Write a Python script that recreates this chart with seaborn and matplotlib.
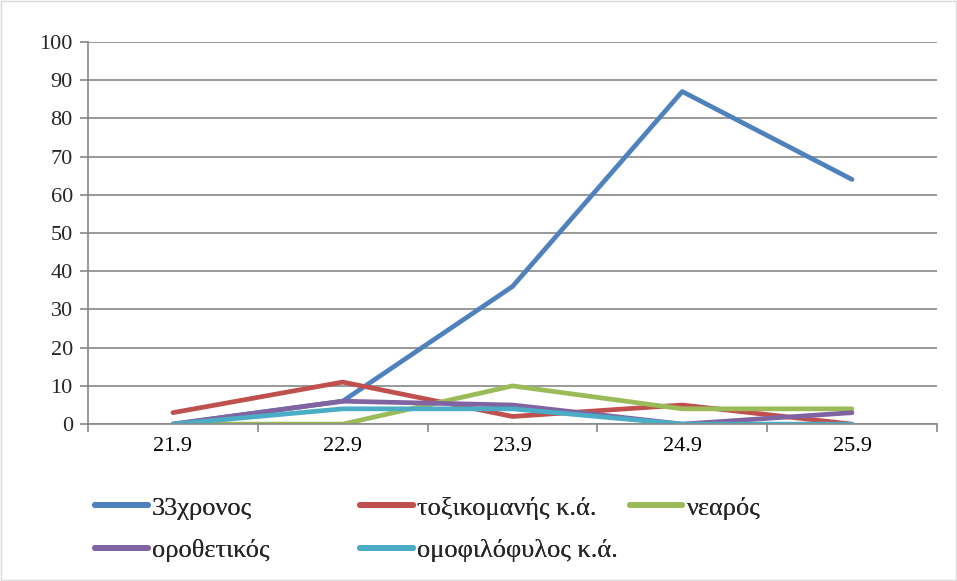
import pandas as pd
import matplotlib.pyplot as plt
import seaborn as sns

dates = ['21.9', '22.9', '23.9', '24.9', '25.9']
series_names = ['33χρονος', 'τοξικομανής κ.ά.', 'νεαρός', 'οροθετικός', 'ομοφιλόφυλος κ.ά.']
v_33 = [0, 6, 36, 87, 64]
v_toxiko = [3, 11, 2, 5, 0]
v_nearos = [0, 0, 10, 4, 4]
v_orothet = [0, 6, 5, 0, 3]
v_omofil = [0, 4, 4, 0, 0]
colors = ['#4F81BD', '#C0504D', '#9BBB59', '#8064A2', '#4BACC6']

sns.set_theme(style="white")
plt.rcParams['font.family'] = ['Liberation Serif', 'DejaVu Serif']

rows = []
for name, vals in zip(series_names, [v_33, v_toxiko, v_nearos, v_orothet, v_omofil]):
    for i, (d, v) in enumerate(zip(dates, vals)):
        rows.append({'pos': i, 'date': d, 'value': v, 'series': name})
data = pd.DataFrame(rows)

fig = plt.figure(figsize=(9.57, 5.81), dpi=100)
ax = fig.add_axes([0.092, 0.270, 0.887, 0.658])
sns.lineplot(data=data, x='pos', y='value', hue='series', hue_order=series_names,
             palette=colors, linewidth=3.4, ax=ax, legend=False)

ax.set_xlim(-0.5, 4.5)
ax.set_ylim(0, 100)
ax.set_yticks(range(0, 101, 10))
ax.set_xticks(range(5))
ax.set_xticklabels(dates)
ax.set_xticks([i - 0.5 for i in range(6)], minor=True)
ax.tick_params(axis='x', which='major', length=0, pad=9, labelsize=16, colors='black')
ax.tick_params(axis='x', which='minor', length=6, width=1.2, color='#888888', direction='out', bottom=True)
ax.tick_params(axis='y', length=6, width=1.2, color='#888888', direction='out', left=True, labelsize=16, pad=5)
ax.grid(axis='y', color='#888888', linewidth=1.2)
ax.set_axisbelow(True)
for s in ['top', 'right']:
    ax.spines[s].set_visible(False)
for s in ['left', 'bottom']:
    ax.spines[s].set_color('#888888')
    ax.spines[s].set_linewidth(1.2)
ax.set_xlabel('')
ax.set_ylabel('')

# legend entries placed like the Excel legend: 3 columns, 2 rows
leg_x = [0.099, 0.376, 0.658, 0.099, 0.376]
leg_y = [0.126, 0.126, 0.126, 0.053, 0.053]
for name, c, lx, ly in zip(series_names, colors, leg_x, leg_y):
    h = plt.Line2D([0], [0], color=c, linewidth=4.2, solid_capstyle='round')
    leg = fig.legend([h], [name], loc='center left', bbox_to_anchor=(lx, ly),
                     frameon=False, fontsize=19, handlelength=2.0, handletextpad=0.17,
                     borderpad=0, borderaxespad=0)
    fig.add_artist(leg)

fig.patches.append(plt.Rectangle((0.001, 0.001), 0.998, 0.998, transform=fig.transFigure,
                                 fill=False, edgecolor='#d9d9d9', linewidth=1))
fig.savefig('out.png', dpi=100)
